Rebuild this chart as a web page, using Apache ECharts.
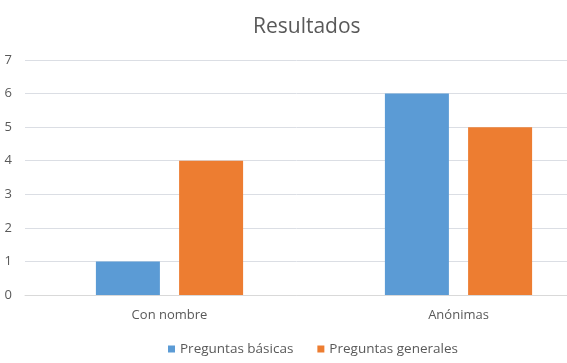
<!DOCTYPE html>
<html><head><meta charset="utf-8">
<script src="https://cdn.jsdelivr.net/npm/echarts@6/dist/echarts.min.js"></script>
<style>html,body{margin:0;padding:0;background:#fff}#c{width:567px;height:363px}</style>
</head><body><div id="c"></div>
<script>
const categories = ["Con nombre", "Anónimas"];
const basicas = [1, 6];
const generales = [4, 5];
const seriesNames = ["Preguntas básicas", "Preguntas generales"];
const chart = echarts.init(document.getElementById('c'));
const font = "'Open Sans', 'Liberation Sans', sans-serif";
chart.setOption({
  animation: false,
  title: {text: "Resultados", left: 248, top: 12, textStyle: {fontFamily: font, fontSize: 21, fontWeight: 'normal', color: '#595959'}},
  legend: {bottom: 2, left: 163, itemWidth: 7, itemHeight: 7, itemGap: 24, icon: 'rect',
    textStyle: {fontFamily: font, fontSize: 13.5, color: '#595959'}, data: seriesNames},
  grid: {left: 25, top: 60, width: 578, height: 235, outerBoundsMode: 'none', containLabel: false},
  xAxis: {type: 'category', data: categories,
    axisLine: {lineStyle: {color: '#d9d9d9'}}, axisTick: {show: false},
    axisLabel: {fontFamily: font, fontSize: 13, color: '#595959', margin: 14}},
  yAxis: {type: 'value', min: 0, max: 7, interval: 1,
    axisLabel: {fontFamily: font, fontSize: 13, color: '#595959', margin: 13}},
  series: [
    {name: seriesNames[0], type: 'bar', data: basicas, barWidth: 64, barGap: '30%', itemStyle: {color: '#5B9BD5'}},
    {name: seriesNames[1], type: 'bar', data: generales, barWidth: 64, barGap: '30%', itemStyle: {color: '#ED7D31'}}
  ]
});
</script></body></html>
